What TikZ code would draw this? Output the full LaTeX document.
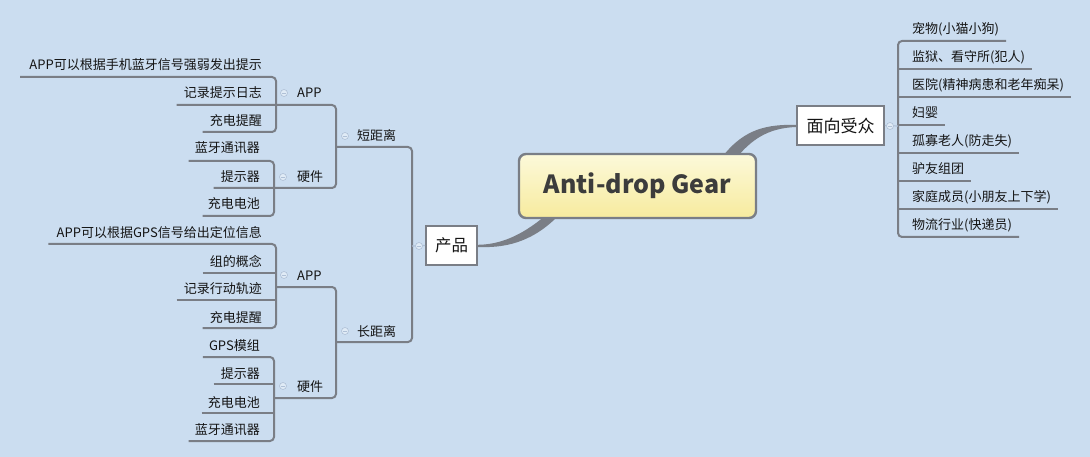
\documentclass[tikz,border=0pt]{standalone}
\usepackage{fontspec}
\setmainfont{Noto Sans CJK SC}
\definecolor{bgc}{RGB}{203,221,240}
\definecolor{linec}{RGB}{122,126,134}
\definecolor{txtc}{RGB}{20,20,20}
\definecolor{iconc}{RGB}{175,192,214}
\begin{document}
\begin{tikzpicture}[x=1pt,y=-1pt,
  ln/.style={draw=linec,line width=2pt,rounded corners=4pt},
  lt/.style={font=\fontsize{13}{15}\selectfont,inner sep=0pt,text=txtc},
  icon/.style={circle,draw=iconc,line width=0.6pt,fill=bgc!60!white,minimum size=7pt,inner sep=0pt,
    path picture={\draw[iconc,line width=0.8pt] ([xshift=-2pt]path picture bounding box.center) -- ([xshift=2pt]path picture bounding box.center);}},
  topbox/.style={draw=linec,line width=1.8pt,fill=white,inner sep=0pt,text=txtc}]
\useasboundingbox (0,0) rectangle (1090,457);
\fill[bgc] (0,0) rectangle (1090,457);

% ---------- short distance group ----------
\node[lt,anchor=base east] (s1) at (262,70) {APP可以根据手机蓝牙信号强弱发出提示};
\node[lt,anchor=base east] (s2) at (262,98) {记录提示日志};
\node[lt,anchor=base east] (s3) at (262,126) {充电提醒};
\node[lt,anchor=base east] (sh1) at (260,153) {蓝牙通讯器};
\node[lt,anchor=base east] (sh2) at (260,182) {提示器};
\node[lt,anchor=base east] (sh3) at (260,209) {充电电池};
\node[lt,anchor=base west] (sapp) at (297,98) {APP};
\node[lt,anchor=base west] (shw) at (297,182) {硬件};
\node[lt,anchor=base west] (sd) at (357,141) {短距离};

\draw[ln] ([xshift=-9pt]s1.west |- 0,77) -- (276,77) -- (276,132) -- ([xshift=-7pt]s3.west |- 0,132);
\draw[ln] ([xshift=-7pt]s2.west |- 0,105) -- (336,105) -- (336,188) -- ([xshift=-7pt]sh2.west |- 0,188);
\draw[ln] ([xshift=-6pt]sh1.west |- 0,161) -- (274,161) -- (274,216) -- ([xshift=-5pt]sh3.west |- 0,216);
\draw[ln] (336,147) -- (412,147) -- (412,342) -- (336,342);

% ---------- long distance group ----------
\node[lt,anchor=base east] (l1) at (262,238) {APP可以根据GPS信号给出定位信息};
\node[lt,anchor=base east] (l2) at (262,267) {组的概念};
\node[lt,anchor=base east] (l3) at (262,294) {记录行动轨迹};
\node[lt,anchor=base east] (l4) at (262,322) {充电提醒};
\node[lt,anchor=base east] (lh1) at (260,350) {GPS模组};
\node[lt,anchor=base east] (lh2) at (260,378) {提示器};
\node[lt,anchor=base east] (lh3) at (260,407) {充电电池};
\node[lt,anchor=base east] (lh4) at (260,434) {蓝牙通讯器};
\node[lt,anchor=base west] (lapp) at (297,280) {APP};
\node[lt,anchor=base west] (lhw) at (297,391) {硬件};
\node[lt,anchor=base west] (ld) at (357,336) {长距离};

\draw[ln] ([xshift=-8pt]l1.west |- 0,244) -- (276,244) -- (276,328) -- ([xshift=-7pt]l4.west |- 0,328);
\draw[ln] ([xshift=-7pt]l2.west |- 0,273) -- (276,273);
\draw[ln] ([xshift=-7pt]l3.west |- 0,300) -- (276,300);
\draw[ln] (276,287) -- (336,287) -- (336,398) -- (274,398);
\draw[ln] ([xshift=-6pt]lh1.west |- 0,357) -- (274,357) -- (274,441) -- ([xshift=-6pt]lh4.west |- 0,441);
\draw[ln] ([xshift=-7pt]lh2.west |- 0,384) -- (274,384);
\draw[ln] ([xshift=-6pt]lh3.west |- 0,413) -- (274,413);

% ---------- right side ----------
\node[lt,anchor=base west] (r1) at (912,34) {宠物(小猫小狗)};
\node[lt,anchor=base west] (r2) at (912,62) {监狱、看守所(犯人)};
\node[lt,anchor=base west] (r3) at (912,90) {医院(精神病患和老年痴呆)};
\node[lt,anchor=base west] (r4) at (912,118) {妇婴};
\node[lt,anchor=base west] (r5) at (912,146) {孤寡老人(防走失)};
\node[lt,anchor=base west] (r6) at (912,174) {驴友组团};
\node[lt,anchor=base west] (r7) at (912,202) {家庭成员(小朋友上下学)};
\node[lt,anchor=base west] (r8) at (912,230) {物流行业(快递员)};

\draw[ln] ([xshift=7pt]r1.east |- 0,41) -- (898,41) -- (898,237) -- ([xshift=7pt]r8.east |- 0,237);
\draw[ln] (898,69) -- ([xshift=7pt]r2.east |- 0,69);
\draw[ln] (898,97) -- ([xshift=7pt]r3.east |- 0,97);
\draw[ln] (898,125) -- ([xshift=7pt]r4.east |- 0,125);
\draw[ln] (898,153) -- ([xshift=7pt]r5.east |- 0,153);
\draw[ln] (898,181) -- ([xshift=7pt]r6.east |- 0,181);
\draw[ln] (898,209) -- ([xshift=7pt]r7.east |- 0,209);

% ---------- main branches ----------
\node[topbox,minimum width=51pt,minimum height=39pt,font=\fontsize{16.5}{18}\selectfont] (prod) at (451.5,245.5) {产品};
\node[topbox,minimum width=87pt,minimum height=39pt,font=\fontsize{17}{19}\selectfont] (aud) at (840.5,125.5) {面向受众};

\fill[linec] (545,216) .. controls (521,236) and (500,244.5) .. (prod.east |- 0,244.8)
  -- (prod.east |- 0,247) .. controls (502,248) and (530,244) .. (557,217) -- cycle;
\fill[linec] (723,156) .. controls (745,128) and (768,124.5) .. (aud.west |- 0,124.8)
  -- (aud.west |- 0,127) .. controls (772,128) and (755,136) .. (738,156) -- cycle;

\draw[draw=iconc,line width=1.2pt] (aud.east) -- (898,126);
\draw[draw=iconc,line width=1.2pt] (412,246) -- (prod.west);

\node[draw=linec,line width=2.4pt,rounded corners=7pt,top color={rgb,255:red,252;green,249;blue,218},
  bottom color={rgb,255:red,247;green,235;blue,158},minimum width=237pt,minimum height=64pt,
  font=\fontsize{25}{30}\selectfont\bfseries,text={rgb,255:red,60;green,60;blue,60}] (root) at (637.5,186) {Anti-drop Gear};

% ---------- collapse icons ----------
\node[icon] (i1) at (284,93) {};
\node[icon] (i2) at (283,177) {};
\node[icon] (i3) at (345,136) {};
\node[icon] (i4) at (284,275) {};
\node[icon] (i5) at (283,386) {};
\node[icon] (i6) at (345,331) {};
\node[icon] (i7) at (419,246) {};
\node[icon] (i8) at (890,126) {};
\end{tikzpicture}
\end{document}
